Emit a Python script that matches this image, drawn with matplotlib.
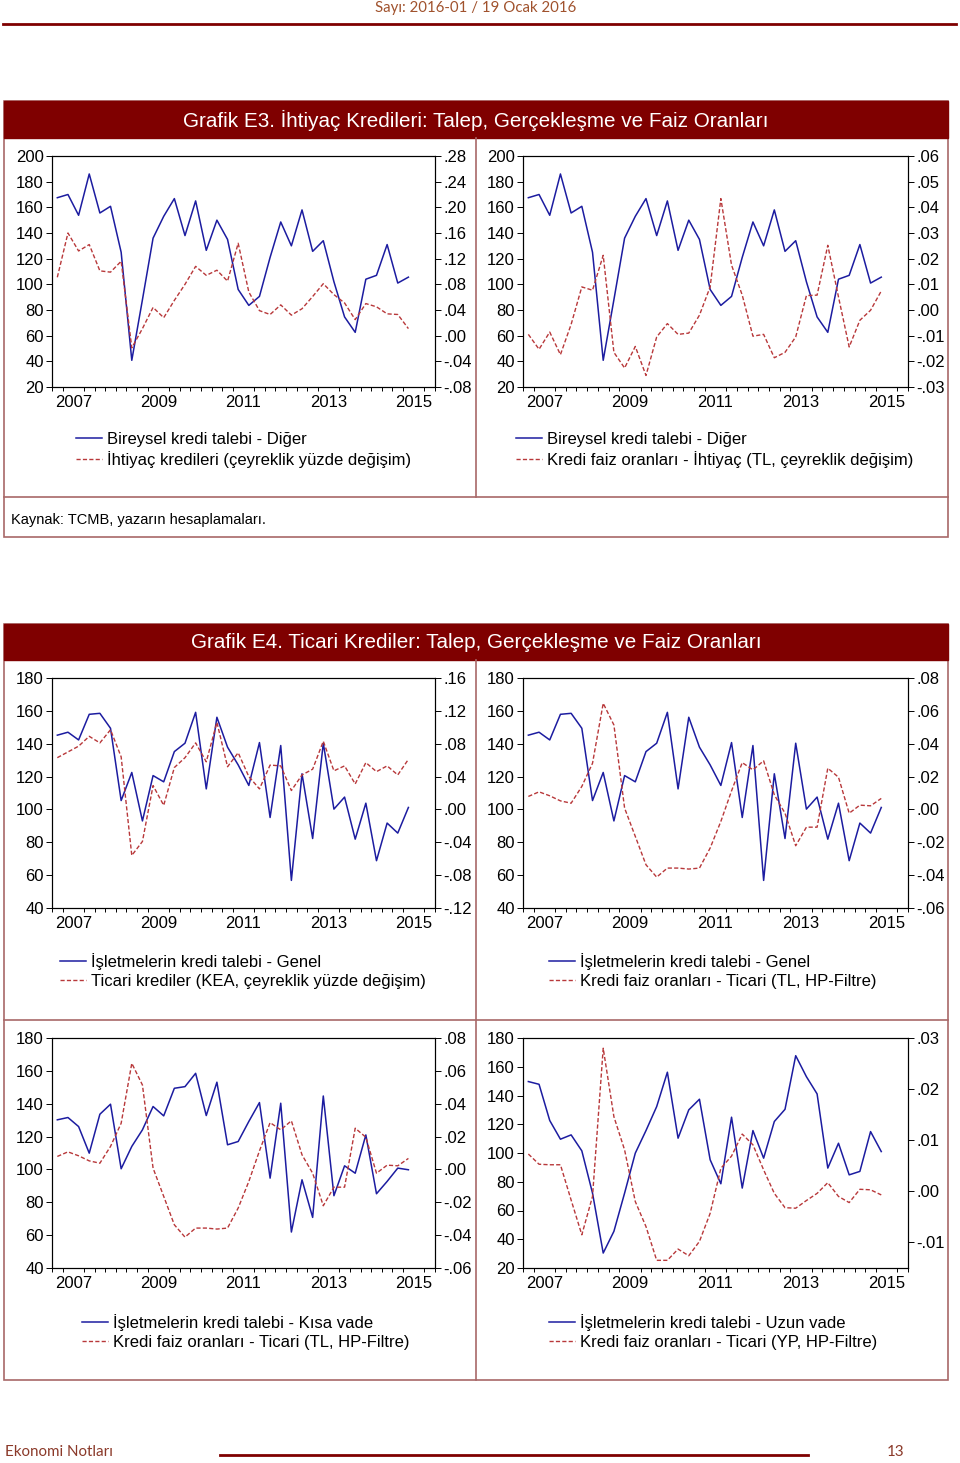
import numpy as np
import matplotlib
matplotlib.use("Agg")
import matplotlib.pyplot as plt
from matplotlib.patches import Rectangle
from matplotlib.lines import Line2D

plt.rcParams['font.family'] = ['Liberation Sans', 'DejaVu Sans']

# quarterly data, 2007Q1 - 2015Q2
years = ['2007', '2009', '2011', '2013', '2015']

talep_diger = [167.5, 170, 153.8, 186, 155.6, 160.8, 125, 40.8, 88, 136, 153, 166.8, 138, 165, 126.5, 150, 135,
               96, 83.6, 90.6, 121, 148.6, 130, 158, 125.7, 134, 102, 74.6, 62.6, 104, 107, 131, 101, 105.6]
ihtiyac_kredi = [0.091, 0.16, 0.132, 0.142, 0.101, 0.099, 0.116, -0.019, 0.011, 0.044, 0.028, 0.055, 0.08, 0.108,
                 0.094, 0.102, 0.085, 0.144, 0.068, 0.039, 0.033, 0.048, 0.032, 0.042, 0.061, 0.081, 0.064, 0.051,
                 0.025, 0.05, 0.045, 0.034, 0.033, 0.011]
faiz_ihtiyac = [-0.0095, -0.0153, -0.0086, -0.0174, -0.0056, 0.009, 0.0077, 0.0213, -0.0165, -0.0226, -0.0142,
                -0.0255, -0.0105, -0.0053, -0.0095, -0.009, -0.002, 0.009, 0.0434, 0.0175, 0.0058, -0.0102,
                -0.0095, -0.0186, -0.0165, -0.0105, 0.0056, 0.0058, 0.0252, 0.0051, -0.0144, -0.004, -0.0001, 0.0074]

talep_genel = [145.2, 147, 142.3, 157.9, 158.5, 149.4, 105.4, 122.5, 93, 120.6, 116.8, 135.2, 140.3, 159.1, 112.5,
               156.1, 137.9, 127.1, 114.6, 140.7, 95.1, 138.9, 56.8, 121.7, 82.3, 140.3, 100.2, 107.5, 81.9, 103.8,
               68.8, 91.7, 85.6, 101.2]
ticari_kea = [0.063, 0.070, 0.077, 0.089, 0.081, 0.097, 0.064, -0.056, -0.039, 0.029, 0.005, 0.051, 0.063, 0.081,
              0.058, 0.106, 0.052, 0.069, 0.04, 0.025, 0.054, 0.053, 0.023, 0.042, 0.049, 0.083, 0.047, 0.053,
              0.031, 0.057, 0.046, 0.053, 0.042, 0.061]
faiz_ticari_tl = [0.0079, 0.0107, 0.0083, 0.0052, 0.0038, 0.014, 0.0281, 0.0646, 0.0514, 0.0008, -0.0164, -0.0337,
                  -0.0412, -0.0357, -0.0357, -0.0363, -0.0357, -0.0235, -0.0073, 0.0113, 0.0285, 0.0241, 0.0296,
                  0.0089, -0.0023, -0.0221, -0.0108, -0.0108, 0.0251, 0.0196, -0.0023, 0.0026, 0.0022, 0.0067]

talep_kisa = [130.2, 131.6, 126.1, 109.9, 133.6, 139.7, 100.4, 114, 124.1, 138.3, 132.6, 149.4, 150.4, 158.5, 132.8,
              153.1, 115, 117, 129.2, 140.7, 94.7, 140.3, 61.9, 93.7, 70.8, 144.7, 84, 102.2, 97.7, 121, 85.2,
              92.7, 100.8, 99.8]
talep_uzun = [149.7, 147.8, 122.6, 109.6, 112.6, 101.5, 72.1, 30.4, 45.5, 72.1, 99.9, 115.6, 132.3, 156.2, 110.3,
              130, 137.4, 95.3, 78.6, 124.9, 75.6, 115.6, 96.4, 121.9, 130.4, 167.7, 153.1, 141.1, 89.5, 106.8,
              84.8, 87.2, 114.9, 101]
faiz_ticari_yp = [0.0073, 0.0053, 0.0052, 0.0052, -0.0017, -0.0085, -0.001, 0.028, 0.0146, 0.0081, -0.002, -0.0069,
                  -0.0135, -0.0135, -0.0113, -0.0126, -0.0098, -0.0043, 0.0045, 0.0069, 0.0112, 0.0091, 0.0042,
                  -0.0004, -0.0032, -0.0033, -0.0018, -0.0004, 0.0017, -0.001, -0.0022, 0.0004, 0.0003, -0.0007]

W, H = 960, 1463
BLUE = '#1c1ca0'
RED = '#b8383a'
DARK = '#7f0000'
EDGE = '#a86868'
FS = 12

fig = plt.figure(figsize=(W / 100, H / 100), dpi=100)


def rect(l, t, r, b):
    return [l / W, 1 - b / H, (r - l) / W, (b - t) / H]


def fig_line(x0, y0, x1, y1, color=EDGE, lw=1.2):
    fig.add_artist(Line2D([x0 / W, x1 / W], [1 - y0 / H, 1 - y1 / H], color=color, lw=lw,
                          transform=fig.transFigure))


def fmt_right(v, pos=None):
    s = f"{np.round(v, 4):.2f}"
    if s == "-0.00":
        s = "0.00"
    return s.replace("0.", ".", 1)


def panel(box, left, right, lylim, lstep, rylim, rticks, labels, leg_xy):
    ax = fig.add_axes(rect(*box))
    x = np.arange(len(left)) + 0.5
    l1, = ax.plot(x, left, color=BLUE, lw=1.1)
    ax.set_xlim(0, 36)
    ax.set_ylim(*lylim)
    ax.set_yticks(np.arange(lylim[0], lylim[1] + 1, lstep))
    ax.set_xticks([2, 10, 18, 26, 34])
    ax.set_xticklabels(years)
    ax.set_xticks(np.arange(0, 37), minor=True)
    ax.tick_params(axis='x', which='major', length=0, pad=6, labelsize=FS)
    ax.tick_params(axis='x', which='minor', length=3, width=0.7)
    ax.tick_params(axis='y', length=4, width=0.7, pad=2, labelsize=FS)
    ax2 = ax.twinx()
    l2, = ax2.plot(x, right, color=RED, lw=1.0, dashes=(3, 1.6))
    ax2.set_ylim(*rylim)
    ax2.set_yticks(rticks)
    ax2.yaxis.set_major_formatter(plt.FuncFormatter(fmt_right))
    ax2.tick_params(axis='y', length=4, width=0.7, pad=2, labelsize=FS)
    for a in (ax, ax2):
        for sp in a.spines.values():
            sp.set_linewidth(0.8)
    fig.legend(handles=[l1, l2], labels=labels, loc='upper left',
               bbox_to_anchor=(leg_xy[0] / W, 1 - leg_xy[1] / H), bbox_transform=fig.transFigure,
               frameon=False, fontsize=FS, handlelength=1.55, handletextpad=0.3,
               labelspacing=0.25, borderpad=0, borderaxespad=0)


# header / footer
fig.text(476 / W, 1 - 8 / H, "Sayı: 2016-01 / 19 Ocak 2016", ha='center', va='center',
         fontsize=10.8, color='#a0522d', family=['Lato', 'DejaVu Sans'])
fig_line(3, 24, 956, 24, color=DARK, lw=2)
fig.text(5 / W, 1 - 1452 / H, "Ekonomi Notları", ha='left', va='center',
         fontsize=10.9, color='#8b3a2a', family=['Lato', 'DejaVu Sans'])
fig.text(904 / W, 1 - 1452 / H, "13", ha='right', va='center',
         fontsize=10.9, color='#8b3a2a', family=['Lato', 'DejaVu Sans'])
fig_line(220, 1455, 808, 1455, color=DARK, lw=2)

# box E3
fig.add_artist(Rectangle((4 / W, 1 - 537 / H), 944 / W, 436 / H, fill=False, ec=EDGE, lw=1.2,
                         transform=fig.transFigure))
fig.add_artist(Rectangle((4 / W, 1 - 138 / H), 944 / W, 37 / H, color=DARK, transform=fig.transFigure))
fig.text(476 / W, 1 - 120 / H, "Grafik E3. İhtiyaç Kredileri: Talep, Gerçekleşme ve Faiz Oranları",
         ha='center', va='center', color='white', fontsize=14.9)
fig_line(476, 138, 476, 497)
fig_line(4, 497, 948, 497)
fig.text(11 / W, 1 - 520 / H, "Kaynak: TCMB, yazarın hesaplamaları.", ha='left', va='center', fontsize=10.5)

# box E4
fig.add_artist(Rectangle((4 / W, 1 - 1380 / H), 944 / W, 756 / H, fill=False, ec=EDGE, lw=1.2,
                         transform=fig.transFigure))
fig.add_artist(Rectangle((4 / W, 1 - 660 / H), 944 / W, 36 / H, color=DARK, transform=fig.transFigure))
fig.text(476 / W, 1 - 643 / H, "Grafik E4. Ticari Krediler: Talep, Gerçekleşme ve Faiz Oranları",
         ha='center', va='center', color='white', fontsize=14.9)
fig_line(476, 660, 476, 1380)
fig_line(4, 1020, 948, 1020)

panel((52, 156, 435, 387), talep_diger, ihtiyac_kredi, (20, 200), 20, (-0.08, 0.28),
      np.arange(-0.08, 0.29, 0.04),
      ["Bireysel kredi talebi - Diğer", "İhtiyaç kredileri (çeyreklik yüzde değişim)"], (76, 432))
panel((523, 156, 908, 387), talep_diger, faiz_ihtiyac, (20, 200), 20, (-0.03, 0.06),
      np.arange(-0.03, 0.061, 0.01),
      ["Bireysel kredi talebi - Diğer", "Kredi faiz oranları - İhtiyaç (TL, çeyreklik değişim)"], (516, 432))
panel((52, 678, 435, 908), talep_genel, ticari_kea, (40, 180), 20, (-0.12, 0.16),
      np.arange(-0.12, 0.17, 0.04),
      ["İşletmelerin kredi talebi - Genel", "Ticari krediler (KEA, çeyreklik yüzde değişim)"], (60, 953))
panel((523, 678, 908, 908), talep_genel, faiz_ticari_tl, (40, 180), 20, (-0.06, 0.08),
      np.arange(-0.06, 0.081, 0.02),
      ["İşletmelerin kredi talebi - Genel", "Kredi faiz oranları - Ticari (TL, HP-Filtre)"], (549, 953))
panel((52, 1038, 435, 1268), talep_kisa, faiz_ticari_tl, (40, 180), 20, (-0.06, 0.08),
      np.arange(-0.06, 0.081, 0.02),
      ["İşletmelerin kredi talebi - Kısa vade", "Kredi faiz oranları - Ticari (TL, HP-Filtre)"], (82, 1314))
panel((523, 1038, 908, 1268), talep_uzun, faiz_ticari_yp, (20, 180), 20, (-0.015, 0.03),
      np.arange(-0.01, 0.031, 0.01),
      ["İşletmelerin kredi talebi - Uzun vade", "Kredi faiz oranları - Ticari (YP, HP-Filtre)"], (549, 1314))

fig.savefig("out.png", dpi=100)
